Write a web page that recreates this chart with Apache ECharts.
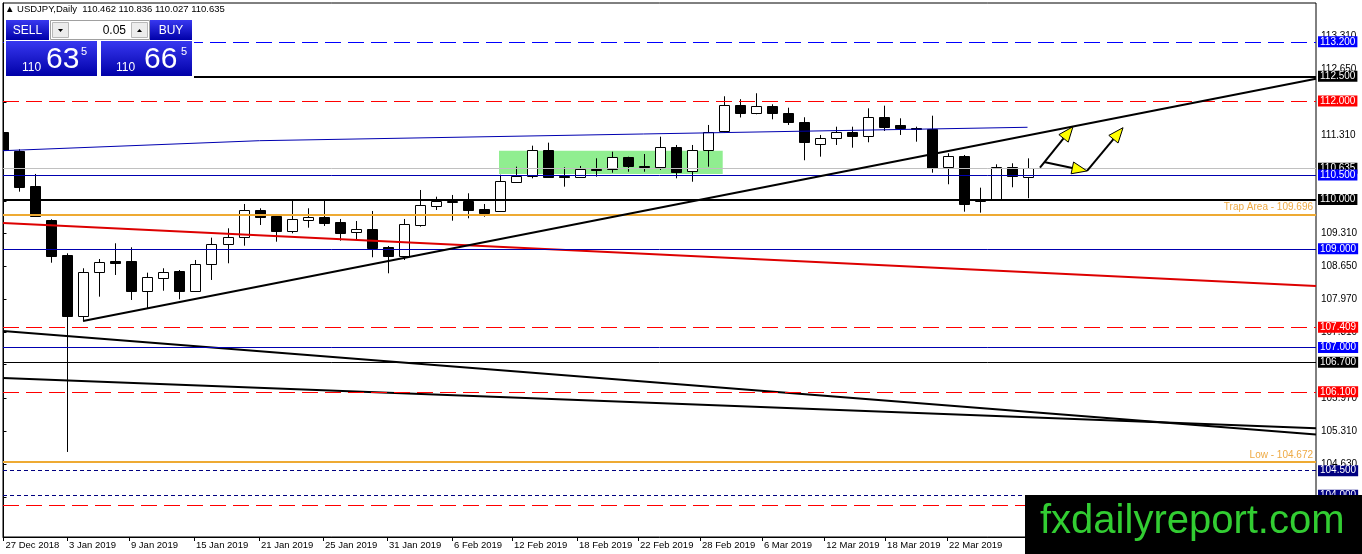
<!DOCTYPE html>
<html>
<head>
<meta charset="utf-8">
<script src="https://cdn.jsdelivr.net/npm/echarts@6/dist/echarts.min.js"></script>
<style>
html,body{margin:0;padding:0;background:#fff;}
#chart{width:1362px;height:554px;}
</style>
</head>
<body>
<div id="chart"></div>
<script>
// ---------- DATA ----------
const opens  = [111.364,110.991,110.275,109.586,108.876,107.644,108.525,108.748,108.754,108.151,108.415,108.551,108.151,108.687,109.093,109.235,109.782,109.667,109.369,109.592,109.646,109.551,109.336,109.403,109.032,108.861,109.484,109.876,109.966,109.971,109.809,109.774,110.362,110.478,111.005,110.478,110.452,110.626,110.626,110.857,110.687,110.655,111.060,110.579,110.999,111.381,111.908,111.750,111.898,111.762,111.567,111.121,111.243,111.364,111.296,111.669,111.513,111.458,111.431,110.655,110.884,109.985,110.011,110.655,110.462];
const highs  = [111.411,111.020,110.519,109.600,108.910,108.606,108.794,109.113,109.032,108.517,108.606,108.571,108.774,109.227,109.417,109.910,109.823,109.707,109.991,109.823,109.971,109.606,109.565,109.768,109.058,109.606,110.194,110.058,110.093,110.127,109.910,110.504,110.667,111.093,111.154,110.655,110.681,110.837,110.971,110.870,110.924,111.275,111.107,111.107,111.513,112.095,112.036,112.156,111.932,111.863,111.669,111.310,111.478,111.478,111.851,111.904,111.648,111.478,111.701,110.939,110.904,110.241,110.715,110.736,110.836];
const lows   = [110.640,110.160,109.652,108.719,104.880,107.557,108.030,108.470,107.963,107.794,108.151,107.977,108.131,108.369,108.707,109.064,109.484,109.145,109.316,109.429,109.464,109.166,109.180,108.829,108.504,108.774,109.450,109.788,109.571,109.620,109.652,109.758,110.342,110.431,110.452,110.261,110.448,110.464,110.545,110.565,110.565,110.600,110.431,110.362,110.667,111.360,111.665,111.730,111.628,111.513,110.797,110.870,111.107,111.052,111.162,111.391,111.310,111.174,110.545,110.310,109.754,109.734,110.001,110.249,110.027];
const closes = [111.005,110.261,109.673,108.861,107.644,108.525,108.728,108.720,108.151,108.423,108.525,108.151,108.687,109.093,109.235,109.788,109.652,109.369,109.600,109.646,109.531,109.328,109.403,109.024,108.861,109.504,109.890,109.971,109.971,109.788,109.734,110.377,110.472,111.005,110.464,110.452,110.614,110.614,110.857,110.687,110.667,111.060,110.565,111.005,111.377,111.912,111.750,111.892,111.762,111.567,111.162,111.243,111.364,111.296,111.669,111.478,111.458,111.425,110.646,110.884,109.904,110.001,110.655,110.478,110.635];

const xTickPos    = [0, 3.97, 7.84, 11.9, 15.97, 19.97, 23.97, 28.03, 31.78, 35.84, 39.66, 43.53, 47.4, 51.3, 55.1, 58.97];
const xTickLabels = ['27 Dec 2018','3 Jan 2019','9 Jan 2019','15 Jan 2019','21 Jan 2019','25 Jan 2019','31 Jan 2019','6 Feb 2019','12 Feb 2019','18 Feb 2019','22 Feb 2019','28 Feb 2019','6 Mar 2019','12 Mar 2019','18 Mar 2019','22 Mar 2019'];
const yTickValues = [113.31, 112.65, 111.97, 111.31, 110.63, 109.97, 109.31, 108.65, 107.97, 107.31, 106.65, 105.97, 105.31, 104.63, 103.97];

const levelValues = [113.200, 112.500, 112.000, 110.635, 110.500, 110.000, 109.696, 109.000, 107.409, 107.000, 106.700, 106.100, 104.672, 104.500, 104.000, 103.800];
const levelTexts  = ['113.200','112.500','112.000','110.635','110.500','110.000','Trap Area - 109.696','109.000','107.409','107.000','106.700','106.100','Low - 104.672','104.500','104.000',''];
const levelKinds  = ['blueDash','blackThick','redDash','gray','blue','blackThick','orange','blue','redDash','blue','black','redDash','orange','navyDot','navyDot','redDash'];

const risingTrend = [[4.97,107.537],[82.03,112.452]];
const blueTrend   = [[-0.031,110.991],[16,111.194],[64,111.466]];
const redTrend    = [[-0.031,109.525],[82.03,108.247]];
const downTrendA  = [[-0.031,107.334],[82.03,105.235]];
const downTrendB  = [[-0.031,106.381],[82.03,105.360]];
const greenZone   = [[30.97,110.990,44.95,110.519]];
const arrows      = [[64.78,110.647,66.84,111.478],[65.03,110.762,67.72,110.580],[67.72,110.580,69.97,111.458]];

const headerText = '\u25B2 USDJPY,Daily  110.462 110.836 110.027 110.635';

// ---------- STYLES ----------
const FONT = 'Liberation Sans, Arial, sans-serif';
const kindStyle = {
  blueDash:   {line:{color:'#0000ff', width:1, type:[16,7]}, bg:'#0000ff'},
  blackThick: {line:{color:'#000000', width:2, type:'solid'}, bg:'#000000'},
  redDash:    {line:{color:'#ff0000', width:1, type:[16,7]}, bg:'#ff0000'},
  gray:       {line:{color:'#c0c0c0', width:1, type:'solid'}, bg:'#000000'},
  blue:       {line:{color:'#0000b0', width:1, type:'solid'}, bg:'#0000ff'},
  black:      {line:{color:'#000000', width:1, type:'solid'}, bg:'#000000'},
  orange:     {line:{color:'#eeaa33', width:2, type:'solid'}, text:'#eeaa44'},
  navyDot:    {line:{color:'#000080', width:1, type:[4,3]}, bg:'#000080'}
};

const markLineData = levelValues.map((v, i) => {
  const k = kindStyle[levelKinds[i]];
  const item = {yAxis: v, lineStyle: Object.assign({}, k.line)};
  if (k.text) {
    item.label = {show:true, position:'insideEndTop', formatter: levelTexts[i], color:k.text,
      fontSize:10, fontFamily:FONT, distance:[3,2]};
  } else if (levelTexts[i]) {
    item.label = {show:true, position:'end', formatter: levelTexts[i], color:'#ffffff',
      backgroundColor:k.bg, fontSize:10, fontFamily:FONT, padding:[1,2,0,2], distance:2};
  } else {
    item.label = {show:false};
  }
  return item;
});

const candleData = opens.map((o, i) => [i, o, closes[i], lows[i], highs[i]]);

function renderCandle(params, api) {
  const x = api.value(0), o = api.value(1), c = api.value(2), l = api.value(3), h = api.value(4);
  const pO = api.coord([x, o]), pC = api.coord([x, c]), pL = api.coord([x, l]), pH = api.coord([x, h]);
  const cx = Math.round(pO[0]) + 0.5;
  const top = Math.round(Math.min(pO[1], pC[1]));
  const bot = Math.round(Math.max(pO[1], pC[1]));
  const w = 10;
  const bear = c < o;
  return {type:'group', children:[
    {type:'line', shape:{x1:cx, y1:pH[1], x2:cx, y2:pL[1]}, style:{stroke:'#000', lineWidth:1}},
    {type:'rect', shape:{x:cx - w/2, y:top + 0.5, width:w, height:Math.max(1, bot - top)},
      style:{fill: bear ? '#000' : '#fff', stroke:'#000', lineWidth:1}}
  ]};
}

function renderZone(params, api) {
  const p1 = api.coord([api.value(0), api.value(1)]);
  const p2 = api.coord([api.value(2), api.value(3)]);
  return {type:'rect', shape:{x:p1[0], y:p1[1], width:p2[0]-p1[0], height:p2[1]-p1[1]},
    style:{fill:'#90ee90'}};
}

function renderArrow(params, api) {
  const p1 = api.coord([api.value(0), api.value(1)]);
  const p2 = api.coord([api.value(2), api.value(3)]);
  const dx = p2[0]-p1[0], dy = p2[1]-p1[1];
  const len = Math.hypot(dx, dy);
  const ux = dx/len, uy = dy/len;
  const L = 15, W = 6;
  const bx = p2[0]-ux*L, by = p2[1]-uy*L;
  return {type:'group', children:[
    {type:'line', shape:{x1:p1[0], y1:p1[1], x2:bx, y2:by}, style:{stroke:'#000', lineWidth:2}},
    {type:'polygon', shape:{points:[[p2[0],p2[1]],[bx-uy*W, by+ux*W],[bx+uy*W, by-ux*W]]},
      style:{fill:'#ffff00', stroke:'#000', lineWidth:1}}
  ]};
}

function trend(data, color, width, z) {
  return {type:'line', data:data, symbol:'none', silent:true, z:z,
    lineStyle:{color:color, width:width}, emphasis:{disabled:true}};
}

const blueGrad = {type:'linear', x:0, y:0, x2:0, y2:1,
  colorStops:[{offset:0, color:'#3838f0'},{offset:1, color:'#0000a8'}]};

const chart = echarts.init(document.getElementById('chart'), null, {renderer:'canvas'});
chart.setOption({
  animation:false,
  backgroundColor:'#ffffff',
  textStyle:{fontFamily:FONT},
  grid:{left:3, right:46, top:3, bottom:17, show:true, borderColor:'#000', borderWidth:1, backgroundColor:'#fff'},
  xAxis:{
    type:'value', min:-0.031, max:82.03,
    axisLine:{show:true, lineStyle:{color:'#000', width:1}},
    axisTick:{show:true, length:4, customValues:xTickPos, lineStyle:{color:'#000'}},
    axisLabel:{show:true, customValues:xTickPos, align:'left', margin:3, padding:[0,0,0,2],
      color:'#000', fontSize:9.5, fontFamily:FONT,
      formatter:function(v){
        let best = 0;
        for (let i = 1; i < xTickPos.length; i++) {
          if (Math.abs(xTickPos[i]-v) < Math.abs(xTickPos[best]-v)) best = i;
        }
        return xTickLabels[best];
      }},
    splitLine:{show:false}
  },
  yAxis:{
    type:'value', position:'right', min:103.155, max:113.987, scale:true,
    axisLine:{show:true, lineStyle:{color:'#000', width:1}},
    axisTick:{show:true, length:3, customValues:yTickValues, lineStyle:{color:'#000'}},
    axisLabel:{show:true, customValues:yTickValues, margin:5, color:'#000', fontSize:10, fontFamily:FONT,
      formatter:function(v){ return v.toFixed(3); }},
    splitLine:{show:false}
  },
  series:[
    {type:'custom', renderItem:renderZone, data:greenZone, z:1, silent:true, clip:true,
      encode:{x:[0,2], y:[1,3]}},
    {type:'custom', renderItem:renderCandle, data:candleData, z:3, silent:true, clip:true,
      encode:{x:0, y:[1,2,3,4]}},
    trend(blueTrend, '#0000b0', 1, 4),
    trend(redTrend, '#dd0000', 2, 4),
    trend(downTrendA, '#000000', 2, 4),
    trend(downTrendB, '#000000', 2, 4),
    Object.assign(trend(risingTrend, '#000000', 2, 5), {
      markLine:{silent:true, symbol:['none','none'], precision:3, emphasis:{disabled:true},
        data:markLineData}
    }),
    {type:'custom', renderItem:renderArrow, data:arrows, z:6, silent:true,
      encode:{x:[0,2], y:[1,3]}}
  ],
  graphic:[
    {type:'text', left:5, top:4, z:100, style:{text:headerText, fill:'#000', font:'9.5px ' + FONT}},
    {type:'rect', z:100, shape:{x:4, y:19, width:190, height:59}, style:{fill:'#fff'}},
    {type:'rect', z:101, shape:{x:6, y:20, width:43, height:20}, style:{fill:blueGrad}},
    {type:'text', z:102, x:27.5, y:30.5, style:{text:'SELL', fill:'#fff', font:'12px ' + FONT, align:'center', verticalAlign:'middle'}},
    {type:'rect', z:101, shape:{x:50.5, y:20.5, width:99, height:19}, style:{fill:'#fff', stroke:'#a0a0a0', lineWidth:1}},
    {type:'rect', z:102, shape:{x:52.5, y:22.5, width:16, height:15}, style:{fill:'#ececec', stroke:'#b8b8b8', lineWidth:1}},
    {type:'polygon', z:103, shape:{points:[[58,29],[63,29],[60.5,32]]}, style:{fill:'#000'}},
    {type:'rect', z:102, shape:{x:131.5, y:22.5, width:16, height:15}, style:{fill:'#ececec', stroke:'#b8b8b8', lineWidth:1}},
    {type:'polygon', z:103, shape:{points:[[137,32],[142,32],[139.5,29]]}, style:{fill:'#000'}},
    {type:'text', z:102, x:126, y:30.5, style:{text:'0.05', fill:'#000', font:'12px ' + FONT, align:'right', verticalAlign:'middle'}},
    {type:'rect', z:101, shape:{x:150, y:20, width:42, height:20}, style:{fill:blueGrad}},
    {type:'text', z:102, x:171, y:30.5, style:{text:'BUY', fill:'#fff', font:'12px ' + FONT, align:'center', verticalAlign:'middle'}},
    {type:'rect', z:101, shape:{x:6, y:41, width:91, height:35}, style:{fill:blueGrad}},
    {type:'rect', z:101, shape:{x:101, y:41, width:91, height:35}, style:{fill:blueGrad}},
    {type:'text', z:102, x:22, y:74, style:{text:'110', fill:'#fff', font:'12px ' + FONT, verticalAlign:'bottom'}},
    {type:'text', z:102, x:46, y:75, style:{text:'63', fill:'#fff', font:'30px ' + FONT, verticalAlign:'bottom'}},
    {type:'text', z:102, x:81, y:46, style:{text:'5', fill:'#fff', font:'11px ' + FONT, verticalAlign:'top'}},
    {type:'text', z:102, x:116, y:74, style:{text:'110', fill:'#fff', font:'12px ' + FONT, verticalAlign:'bottom'}},
    {type:'text', z:102, x:144, y:75, style:{text:'66', fill:'#fff', font:'30px ' + FONT, verticalAlign:'bottom'}},
    {type:'text', z:102, x:181, y:46, style:{text:'5', fill:'#fff', font:'11px ' + FONT, verticalAlign:'top'}},
    {type:'rect', z:110, shape:{x:1025, y:495, width:337, height:59}, style:{fill:'#000'}},
    {type:'text', z:111, x:1040, y:522, style:{text:'fxdailyreport.com', fill:'#32cd32', font:'40px ' + FONT, verticalAlign:'middle'}}
  ]
});
</script>
</body>
</html>
